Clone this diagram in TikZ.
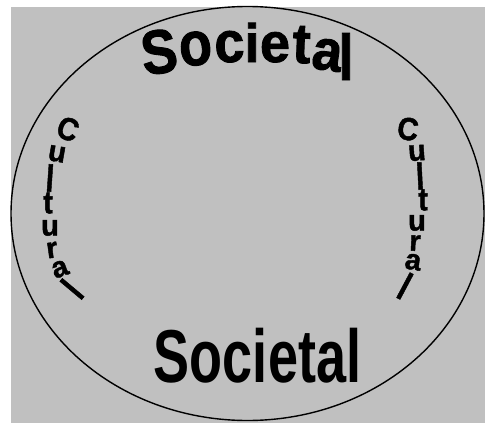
\documentclass[tikz,border=0pt]{standalone}
\usepackage{fontspec}
\setmainfont{Liberation Sans}
\newfontfamily\heavyfont[BoldFeatures={FakeBold=1.5}]{Liberation Sans}
\usetikzlibrary{positioning}
\definecolor{panelgray}{HTML}{C0C0C0}

\tikzset{
    toplet/.style={font=\heavyfont\bfseries\fontsize{54}{54}\selectfont, inner sep=0pt, anchor=base},
    sidelet/.style={font=\heavyfont\bfseries\fontsize{29}{29}\selectfont, inner sep=0pt, anchor=center},
    lowword/.style={font=\bfseries\fontsize{75}{75}\selectfont, inner sep=0pt, anchor=base, xscale=0.72}
}

\begin{document}
\begin{tikzpicture}[x=1pt,y=-1pt]
    \useasboundingbox (0,0) rectangle (485,423);
    \fill[panelgray] (11,7) rectangle (485,423);
    \draw[black, line width=1.4pt] (247.5,213.5) ellipse [x radius=236.5, y radius=207];

    % top word, letter by letter
    \foreach \x/\y/\r/\s/\ch [count=\i] in {162/73/8/1.15/S,197/65/5/1.15/o,230/62/2/1.07/c,252/62/0/1.0/i,
        275/62/0/1.03/e,301/63/-2/1.05/t,325/70/-8/1.07/a,346/80/0/1.2/l} {
        \node[toplet, rotate=\r, yscale=\s] (top\i) at (\x,\y) {\ch};
    }

    % left and right side words
    \foreach \x/\y/\r/\s/\ch [count=\i] in {68/129/-20/1.1/C,57/154/-10/1/u,50/178/-4/1.3/l,48/203/0/1.1/t,
        50/228/0/1/u,52/250/8/1/r,60/269/20/1/a,72/289/50/1.35/l} {
        \node[sidelet, rotate=\r, yscale=\s] (left\i) at (\x,\y) {\ch};
    }
    \foreach \x/\y/\r/\s/\ch [count=\i] in {408/129/-8/1.1/C,417/153/4/1/u,420/176/3/1.3/l,423/200/0/1.1/t,
        417/223/0/1/u,415/243/-3/1/r,413/262/-8/1/a,405/286/-28/1.35/l} {
        \node[sidelet, rotate=\r, yscale=\s] (right\i) at (\x,\y) {\ch};
    }

    \node[lowword] (low) at (257.5,382) {Societal};
\end{tikzpicture}
\end{document}
